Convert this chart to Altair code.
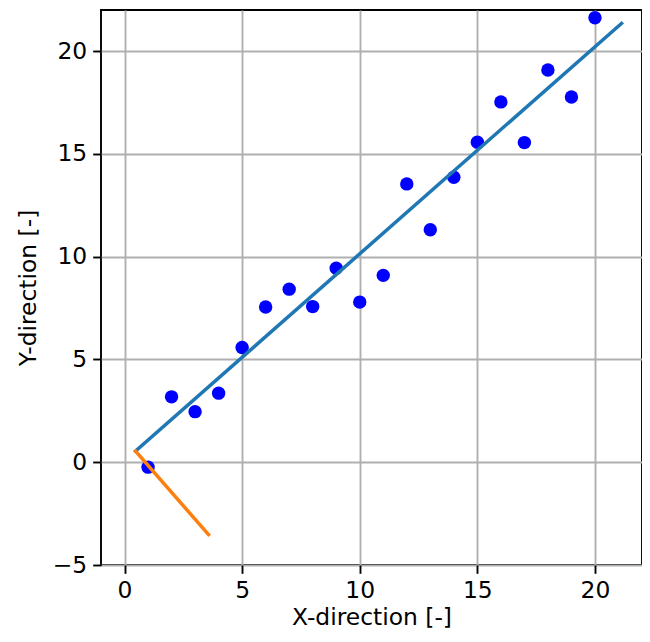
import altair as alt
import pandas as pd

# Scatter data
pt_x = [1, 2, 3, 4, 5, 6, 7, 8, 9, 10, 11, 12, 13, 14, 15, 16, 17, 18, 19, 20]
pt_y = [-0.24, 3.18, 2.46, 3.36, 5.58, 7.55, 8.42, 7.57, 9.44, 7.79,
        9.09, 13.54, 11.31, 13.86, 15.57, 17.53, 15.55, 19.08, 17.77, 21.62]

# Direction lines (start / end points)
line_series = ["main", "main", "perp", "perp"]
line_order = [0, 1, 0, 1]
line_x = [0.47, 21.13, 0.47, 3.57]
line_y = [0.54, 21.35, 0.54, -3.52]

x_ticks = [0, 5, 10, 15, 20]
y_ticks = [-5, 0, 5, 10, 15, 20]

pts = pd.DataFrame({"x": pt_x, "y": pt_y})
lines = pd.DataFrame({"series": line_series, "order": line_order, "x": line_x, "y": line_y})

FONT = "DejaVu Sans"
FS = 23.4

xscale = alt.Scale(domain=[-1, 22], nice=False, zero=False)
yscale = alt.Scale(domain=[-5, 22], nice=False, zero=False)

xaxis = alt.Axis(title="X-direction [-]", values=x_ticks, format="d")
yaxis = alt.Axis(title="Y-direction [-]", values=y_ticks, format="d")

line_layer = alt.Chart(lines).mark_line(strokeWidth=3.5, strokeCap="square").encode(
    x=alt.X("x:Q", scale=xscale, axis=xaxis),
    y=alt.Y("y:Q", scale=yscale, axis=yaxis),
    color=alt.Color("series:N", scale=alt.Scale(domain=["main", "perp"], range=["#1f77b4", "#ff7f0e"]), legend=None),
    detail="series:N",
    order="order:Q",
)

pt_layer = alt.Chart(pts).mark_circle(size=180, opacity=1, color="#0000ff").encode(
    x=alt.X("x:Q", scale=xscale, axis=xaxis),
    y=alt.Y("y:Q", scale=yscale, axis=yaxis),
)

chart = alt.layer(pt_layer, line_layer).properties(
    width=541,
    height=555,
    background="white",
    autosize=alt.AutoSizeParams(type="none"),
    padding={"left": 93, "top": 2, "right": 0, "bottom": 65},
).configure_view(
    stroke="black", strokeWidth=1.9, fill="white"
).configure_axis(
    domain=False,
    grid=True,
    gridColor="#b0b0b0",
    gridWidth=1.9,
    gridOpacity=1,
    tickColor="black",
    tickWidth=1.9,
    tickSize=8.3,
    labelFont=FONT,
    labelFontSize=FS,
    labelColor="black",
    labelPadding=6,
    titleFont=FONT,
    titleFontSize=FS,
    titleFontWeight="normal",
    titleColor="black",
).configure_axisX(
    labelBaseline="alphabetic",
    labelPadding=23.7,
    titleBaseline="alphabetic",
    titleY=59,
).configure_axisY(
    titleBaseline="alphabetic",
    titleX=-66,
)

chart.save("out.html", embed_options={"renderer": "svg", "actions": False})
